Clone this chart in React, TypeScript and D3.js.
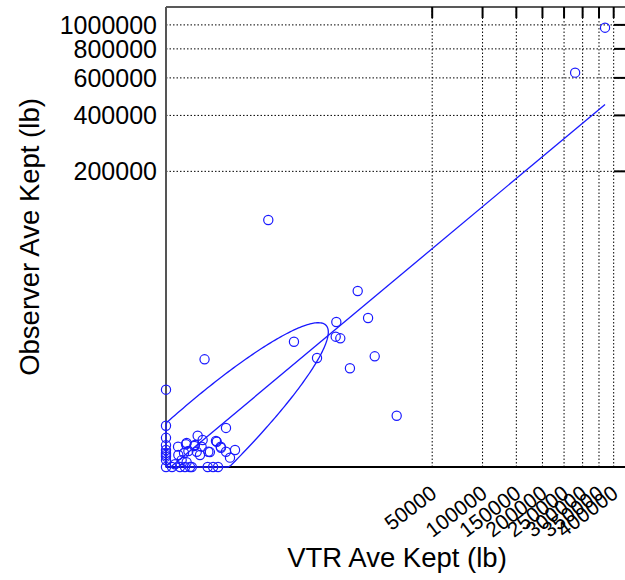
import React from "react";
import * as d3 from "d3";

// VTR vs observer average kept weight (lb), one pair per trip
const vtrKept = [
  370000, 279000, 1090, 13450, 16600, 8380, 2670, 8260, 9190, 5180, 22, 18900,
  11400, 28200, 129, 0, 0, 0, 0, 0, 0, 0, 0, 10, 226, 66, 91, 37, 167, 30, 49,
  73, 4.4, 0.21, 1.8, 7, 8.9, 13.3, 1.05, 1.6, 0.23, 2.5, 6.4, 18, 16, 32, 62,
  89, 129, 0.6, 1.8, 0.065, 0.38, 1.3, 3.3, 0.013, 0, 0,
];
const observerKept = [
  975000, 633000, 97500, 25100, 12900, 11570, 6450, 7550, 7180, 3700, 3520,
  3930, 2490, 181, 61, 935, 76, 19, 6, 2.2, 0.55, 0.06, 0, 25, 2.2, 10.7, 3.6,
  1.3, 0.2, 0, 0, 0, 0, 4.5, 8.7, 6.1, 1.4, 0.54, 1.0, 7, 0.54, 1.7, 5.1, 14,
  4.5, 1.4, 12, 4.5, 1.4, 0.06, 0.013, 0.0014, 0, 0, 0, 0, 0.3, 1,
];

const xTicks = [50000, 100000, 150000, 200000, 250000, 300000, 350000, 400000];
const yTicks = [200000, 400000, 600000, 800000, 1000000];

// fit line on the fourth-root scale: y^.25 = a + b * x^.25
const fitIntercept = -0.28;
const fitSlope = 1.063;
const fitMaxX = 370000;

// data ellipse on the fourth-root scale
const ellCenter = [0.354, -0.15];
const ellSpread = [8.764, 10.47];
const ellCorr = 0.936;

const W = 625;
const H = 580;
const left = 166;
const right = 625;
const top = 7;
const bottom = 467;
const blue = "#1a1aff";

export default function App() {
  const x = d3.scalePow().exponent(0.25).domain([0, 442000]).range([left, right]);
  const y = d3.scalePow().exponent(0.25).domain([0, 1172000]).range([bottom, top]);

  const points = vtrKept.map((v, i) => [v, observerKept[i]]);

  // ellipse outline in root units, clamped at zero, back to raw units
  const dAng = Math.acos(ellCorr);
  const ell = d3.range(0, 361).map((d) => {
    const t = (d * Math.PI) / 180;
    const ex = ellCenter[0] + ellSpread[0] * Math.cos(t);
    const ey = ellCenter[1] + ellSpread[1] * Math.cos(t - dAng);
    return [Math.pow(Math.max(0, ex), 4), Math.pow(Math.max(0, ey), 4)];
  });
  const ellPath = d3
    .line()
    .x((d) => x(d[0]))
    .y((d) => y(d[1]))(ell);

  const x0 = Math.pow(-fitIntercept / fitSlope, 4);
  const yEnd = Math.pow(fitIntercept + fitSlope * Math.pow(fitMaxX, 0.25), 4);

  const font = "Liberation Sans, Arial, sans-serif";

  return (
    <svg
      width={W}
      height={H}
      style={{ position: "absolute", left: 0, top: 0, background: "#fff" }}
      fontFamily={font}
    >
      {/* grid */}
      {yTicks.map((t) => (
        <line key={"gy" + t} x1={left} x2={right} y1={y(t)} y2={y(t)}
          stroke="#000" strokeDasharray="1.5,2" strokeWidth={1} />
      ))}
      {xTicks.map((t) => (
        <line key={"gx" + t} x1={x(t)} x2={x(t)} y1={top} y2={bottom}
          stroke="#000" strokeDasharray="1.5,2" strokeWidth={1} />
      ))}
      {/* frame */}
      <line x1={left} x2={right} y1={top} y2={top} stroke="#222" strokeWidth={1.5} />
      <line x1={left} x2={right} y1={bottom} y2={bottom} stroke="#000" strokeWidth={2} />
      <line x1={left} x2={left} y1={top} y2={bottom} stroke="#555" strokeWidth={2} />
      {xTicks.map((t) => (
        <line key={"tt" + t} x1={x(t)} x2={x(t)} y1={top} y2={top + 11}
          stroke="#000" strokeWidth={2} />
      ))}
      {yTicks.map((t) => (
        <line key={"rt" + t} x1={right - 11} x2={right} y1={y(t)} y2={y(t)}
          stroke="#000" strokeWidth={2} />
      ))}

      {/* ellipse and fit */}
      <path d={ellPath} fill="none" stroke={blue} strokeWidth={1.3} />
      <line x1={x(x0)} y1={y(0)} x2={x(fitMaxX)} y2={y(yEnd)}
        stroke={blue} strokeWidth={1.3} />

      {points.map((d, i) => (
        <circle key={i} cx={x(d[0])} cy={y(d[1])} r={4.6}
          fill="none" stroke={blue} strokeWidth={1.2} />
      ))}

      {/* tick labels */}
      {yTicks.map((t) => (
        <text key={"yl" + t} x={157} y={y(t)} dy="0.36em" textAnchor="end"
          fontSize={25} fill="#000">{t}</text>
      ))}
      {xTicks.map((t) => (
        <text key={"xl" + t} transform={`translate(${x(t) + 6},496) rotate(-37)`}
          textAnchor="end" fontSize={21} fill="#000">{t}</text>
      ))}

      <text x={397} y={567} textAnchor="middle" fontSize={27.5}>VTR Ave Kept (lb)</text>
      <text transform={`translate(39,237) rotate(-90)`} textAnchor="middle" fontSize={27.5}>
        Observer Ave Kept (lb)
      </text>
    </svg>
  );
}
